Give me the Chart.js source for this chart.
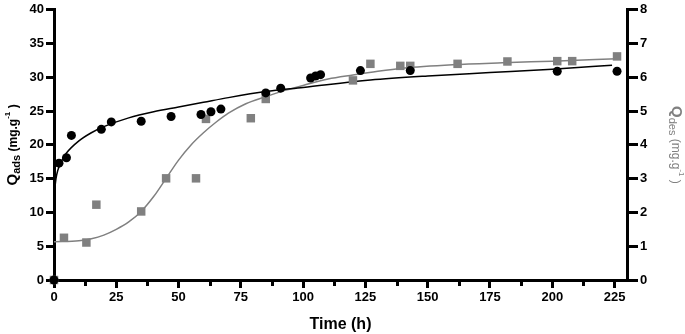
<!DOCTYPE html>
<html>
<head>
<meta charset="utf-8">
<script src="https://cdn.jsdelivr.net/npm/chart.js@4.4.1/dist/chart.umd.min.js"></script>
<style>
  html, body { margin: 0; padding: 0; background: #fff; }
  #wrap { width: 685px; height: 334px; position: relative; }
</style>
</head>
<body>
<div id="wrap"><canvas id="grafico"></canvas></div>
<script>
// adsorption (left axis, mg/g) - measured points
const adsTime = [0, 2, 5, 7, 19, 23, 35, 47, 59, 63, 67, 85, 91, 103, 105, 107, 123, 143, 202, 226];
const adsQ = [0, 17.3, 18.1, 21.4, 22.3, 23.4, 23.5, 24.2, 24.5, 24.9, 25.3, 27.7, 28.4, 29.9, 30.2, 30.4, 31.0, 31.0, 30.9, 30.9];

// desorption (right axis, mg/g) - measured points
const desTime = [0, 4, 13, 17, 35, 45, 57, 61, 79, 85, 120, 127, 139, 143, 162, 182, 202, 208, 226];
const desQ = [0, 1.25, 1.11, 2.23, 2.03, 3.01, 3.01, 4.77, 4.79, 5.36, 5.91, 6.4, 6.34, 6.34, 6.4, 6.47, 6.48, 6.48, 6.62];

// fitted curves
const adsFitTime = [0.3, 0.8, 1.5, 3, 5, 10, 15, 20, 30, 40, 50, 60, 70, 85, 100, 127, 150, 175, 200, 224];
const adsFitQ = [13.5, 15.0, 16.2, 17.6, 18.8, 20.6, 21.8, 22.7, 24.0, 24.9, 25.6, 26.3, 27.0, 27.9, 28.5, 29.6, 30.2, 30.7, 31.2, 31.8];
const desFitTime = [0, 10, 15, 20, 25, 30, 35, 40, 45, 50, 55, 60, 65, 70, 77, 85, 92, 100, 110, 120, 130, 140, 160, 180, 200, 226];
const desFitQ = [1.13, 1.16, 1.22, 1.33, 1.5, 1.72, 2.03, 2.47, 3.01, 3.55, 4.0, 4.36, 4.67, 4.94, 5.22, 5.43, 5.6, 5.76, 5.95, 6.07, 6.18, 6.27, 6.37, 6.43, 6.48, 6.55];

const xMin = 0, xMax = 230, xStep = 25;
const leftMax = 40, leftStep = 5;
const rightMax = 8, rightStep = 1;

const preto = '#000000';
const cinza = '#808080';
const fonte = "'Liberation Sans', Arial, sans-serif";

function pares(xs, ys) {
    return xs.map(function (x, i) { return { x: x, y: ys[i] }; });
}

// text with sub/superscripts, rotated
function textoRico(ctx, partes, x, y, angulo, cor) {
    ctx.save();
    ctx.translate(x, y);
    ctx.rotate(angulo);
    ctx.fillStyle = cor;
    ctx.textBaseline = 'alphabetic';
    ctx.textAlign = 'left';
    let total = 0;
    partes.forEach(function (p) {
        ctx.font = p.font;
        p.w = ctx.measureText(p.t).width;
        total += p.w;
    });
    let cx = -total / 2;
    partes.forEach(function (p) {
        ctx.font = p.font;
        ctx.fillText(p.t, cx, p.dy || 0);
        cx += p.w;
    });
    ctx.restore();
}

const pluginExtras = {
    id: 'extras',
    afterDraw: function (chart) {
        const ctx = chart.ctx;
        const area = chart.chartArea;
        const xs = chart.scales.x;
        // minor ticks on the time axis
        ctx.save();
        ctx.strokeStyle = preto;
        ctx.lineWidth = 3;
        for (let v = xMin + xStep / 2; v < xMax; v += xStep) {
            const px = Math.round(xs.getPixelForValue(v)) + 0.5;
            ctx.beginPath();
            ctx.moveTo(px, area.bottom);
            ctx.lineTo(px, area.bottom + 6);
            ctx.stroke();
        }
        ctx.restore();

        const meio = (area.top + area.bottom) / 2;
        textoRico(ctx, [
            { t: 'Q', font: 'bold 15px ' + fonte },
            { t: 'ads', font: 'bold 11px ' + fonte, dy: 3 },
            { t: ' (mg.g', font: 'bold 12px ' + fonte },
            { t: '-1', font: 'bold 8px ' + fonte, dy: -7 },
            { t: ' )', font: 'bold 12px ' + fonte }
        ], 17, meio, -Math.PI / 2, preto);

        textoRico(ctx, [
            { t: 'Q', font: 'bold 15px ' + fonte },
            { t: 'des', font: '11px ' + fonte, dy: 3 },
            { t: ' (mg.g', font: '12px ' + fonte },
            { t: '-1', font: '8px ' + fonte, dy: -7 },
            { t: ' )', font: '12px ' + fonte }
        ], 672, meio, Math.PI / 2, cinza);
    }
};

const config = {
    type: 'scatter',
    data: {
        datasets: [
            {
                label: 'Qads',
                data: pares(adsTime, adsQ),
                yAxisID: 'y',
                backgroundColor: preto,
                borderColor: preto,
                pointStyle: 'circle',
                pointRadius: 4.5,
                pointBorderWidth: 0,
                clip: false,
                order: 0
            },
            {
                label: 'Qdes',
                data: pares(desTime, desQ),
                yAxisID: 'y2',
                backgroundColor: cinza,
                borderColor: cinza,
                pointStyle: 'rect',
                pointRadius: 6,
                pointBorderWidth: 0,
                clip: false,
                order: 1
            },
            {
                label: 'ajuste ads',
                data: pares(adsFitTime, adsFitQ),
                yAxisID: 'y',
                showLine: true,
                borderColor: preto,
                borderWidth: 1.5,
                pointRadius: 0,
                cubicInterpolationMode: 'monotone',
                order: 2
            },
            {
                label: 'ajuste des',
                data: pares(desFitTime, desFitQ),
                yAxisID: 'y2',
                showLine: true,
                borderColor: cinza,
                borderWidth: 1.5,
                pointRadius: 0,
                cubicInterpolationMode: 'monotone',
                order: 3
            }
        ]
    },
    options: {
        responsive: false,
        animation: false,
        layout: { padding: { top: 7, left: 0, right: 0, bottom: 0 } },
        plugins: {
            legend: { display: false },
            tooltip: { enabled: false }
        },
        scales: {
            x: {
                type: 'linear',
                min: xMin,
                max: xMax,
                grid: { drawOnChartArea: false, tickLength: 8, lineWidth: 3, color: preto },
                border: { width: 3, color: preto },
                ticks: {
                    stepSize: xStep,
                    includeBounds: false,
                    maxRotation: 0,
                    padding: 2,
                    color: preto,
                    font: { family: fonte, size: 13, weight: 'bold' }
                },
                title: {
                    display: true,
                    text: 'Time (h)',
                    color: preto,
                    padding: { top: 4, bottom: 0 },
                    font: { family: fonte, size: 16, weight: 'bold' }
                },
                afterFit: function (s) { s.height = 54; }
            },
            y: {
                type: 'linear',
                position: 'left',
                min: 0,
                max: leftMax,
                grid: { drawOnChartArea: false, tickLength: 8, lineWidth: 3, color: preto },
                border: { width: 3, color: preto },
                ticks: {
                    stepSize: leftStep,
                    padding: 2,
                    color: preto,
                    font: { family: fonte, size: 13, weight: 'bold' }
                },
                afterFit: function (s) { s.width = 54; }
            },
            y2: {
                type: 'linear',
                position: 'right',
                min: 0,
                max: rightMax,
                grid: { drawOnChartArea: false, tickLength: 11, lineWidth: 3, color: preto },
                border: { width: 3, color: preto },
                ticks: {
                    stepSize: rightStep,
                    padding: 2,
                    color: preto,
                    font: { family: fonte, size: 13, weight: 'bold' }
                },
                afterFit: function (s) { s.width = 58; }
            }
        }
    },
    plugins: [pluginExtras]
};

const cvs = document.getElementById('grafico');
cvs.width = 685;
cvs.height = 334;
const cof = cvs.getContext('2d');
window.myChart = new Chart(cof, config);
</script>
</body>
</html>
